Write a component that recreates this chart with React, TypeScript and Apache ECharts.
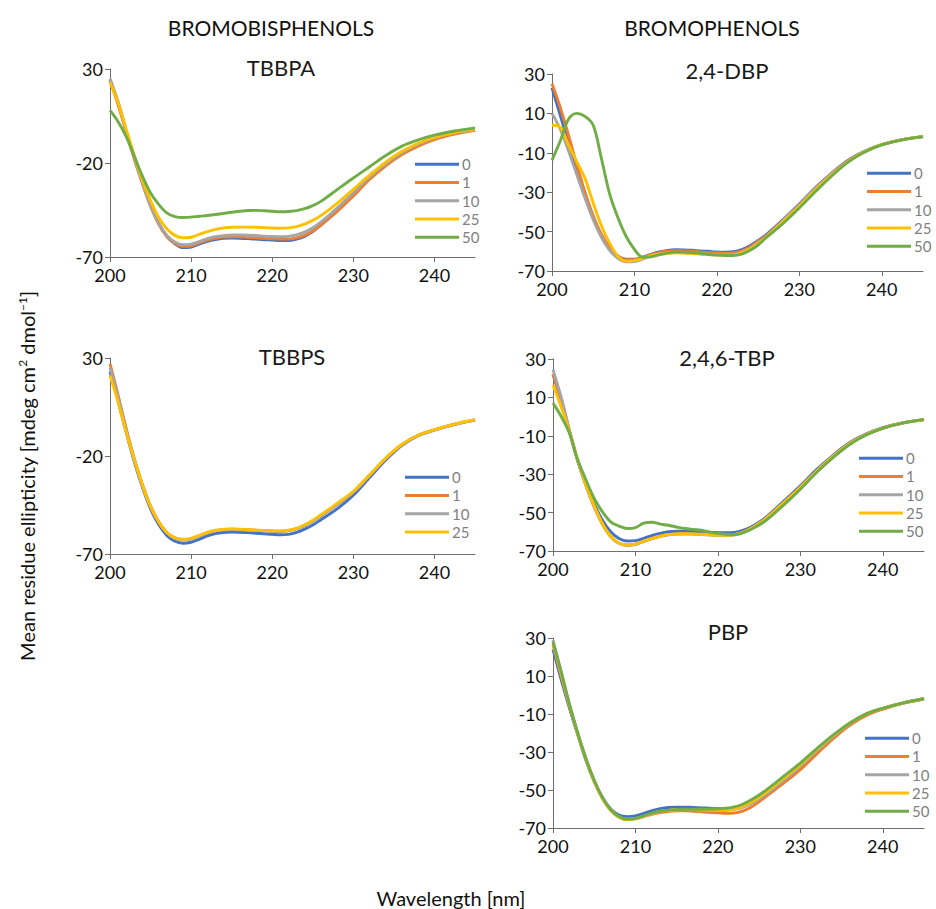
import React, { useEffect, useRef } from "react";
import * as echarts from "echarts";

// Wavelength grid (nm)
const WL = [200, 201, 202, 203, 204, 205, 206, 207, 208, 209, 210, 211, 212, 213, 214, 215, 216, 217, 218, 219, 220, 221, 222, 223, 224, 225, 226, 228, 230, 232, 234, 236, 238, 240, 242.5, 245];

const CONC = ["0", "1", "10", "25", "50"];
const X_TICKS = [200, 210, 220, 230, 240];
const Y_TICKS_A = [-70, -20, 30];
const Y_TICKS_B = [-70, -50, -30, -10, 10, 30];

// TBBPA
const TBBPA_0 = [24, 12, -3, -17, -30, -42, -52, -59, -63, -65, -64.7, -63.2, -61.7, -60.7, -60.1, -59.9, -60, -60.2, -60.5, -60.8, -61, -61.3, -61.3, -60.5, -59, -56.5, -53, -45.5, -37, -28, -21, -15, -10.5, -7, -4.2, -2.3];
const TBBPA_1 = [24, 11, -3.5, -18, -31, -43, -52.5, -59, -62.8, -64.3, -64, -62.5, -61, -60, -59.4, -59.2, -59.3, -59.5, -59.8, -60.1, -60.3, -60.5, -60.5, -59.8, -58.5, -56.2, -53, -45.8, -37.5, -28.8, -21.5, -15.5, -11, -7.5, -4.6, -2.6];
const TBBPA_10 = [25, 12.5, -3, -17, -30.5, -42.5, -52, -58.5, -62, -63.5, -63.2, -61.8, -60.2, -59.2, -58.6, -58.3, -58.3, -58.4, -58.6, -58.9, -59.1, -59.2, -59, -58.2, -56.8, -54.5, -51.5, -44, -35.8, -27.5, -20.5, -14.5, -10, -6.8, -4, -2.2];
const TBBPA_25 = [23, 12, -2, -16, -29, -40, -49, -55, -58.5, -59.8, -59.5, -58, -56.5, -55.3, -54.6, -54.2, -54.1, -54.1, -54.2, -54.4, -54.6, -54.7, -54.5, -53.8, -52.5, -50.5, -48, -41.5, -34, -26.5, -19.5, -13.8, -9.5, -6.4, -3.8, -2];
const TBBPA_50 = [8, 2, -6, -16.5, -27, -36, -42, -46.5, -48.5, -49, -48.8, -48.3, -47.9, -47.4, -46.8, -46.2, -45.7, -45.3, -45.2, -45.4, -45.7, -45.9, -45.8, -45.3, -44.3, -42.7, -40.4, -34.2, -28, -22, -16, -11, -7.7, -5.2, -3, -1.3];

// 2,4-DBP
const DBP_0 = [23, 9, -5, -19, -32, -43, -52, -58.5, -62.5, -64, -64, -63, -61.5, -60.3, -59.5, -59.2, -59.3, -59.5, -59.8, -60, -60.3, -60.4, -60.2, -59.2, -57.2, -54.5, -51.5, -44, -36, -27.5, -20, -13.5, -9, -5.8, -3.3, -1.8];
const DBP_1 = [25, 13, -1, -16, -30, -42, -51.5, -58, -62.5, -64.3, -64.3, -63.3, -61.8, -60.7, -60, -59.7, -59.8, -60, -60.3, -60.6, -60.8, -61, -60.8, -59.8, -57.8, -55, -52, -44.5, -36.5, -28, -20.3, -13.8, -9.2, -5.9, -3.3, -1.8];
const DBP_10 = [10, 2, -9, -21, -33, -44, -53, -59.5, -63.5, -65.3, -65.2, -64, -62.5, -61.4, -60.8, -60.6, -60.7, -60.9, -61.2, -61.5, -61.7, -61.8, -61.6, -60.6, -58.6, -55.8, -52.5, -44.5, -36.5, -28, -20.5, -14, -9.2, -5.9, -3.3, -1.8];
const DBP_25 = [4, 3, -6, -14.5, -23, -35.5, -47, -56, -62.5, -65, -64.8, -63.5, -62.2, -61.5, -61, -60.8, -60.9, -61.1, -61.4, -61.7, -61.9, -62, -61.8, -60.8, -58.8, -56, -52.8, -45, -37, -28.5, -21, -14.2, -9.3, -5.9, -3.3, -1.8];
const DBP_50 = [-13.7, -4, 7, 10, 8.5, 4, -13, -31, -43, -52.5, -59, -63, -62.8, -61.8, -60.9, -60.4, -60.4, -60.7, -61.1, -61.6, -61.9, -62.1, -62.1, -61.4, -59.6, -56.8, -53, -46, -38, -29.5, -21.5, -14.5, -9.5, -6, -3.4, -1.8];

// TBBPS
const TBBPS_0 = [23, 8, -8, -23, -36, -47, -55, -60.5, -63.5, -64.5, -64, -62.5, -60.8, -59.6, -59, -58.8, -58.9, -59.1, -59.4, -59.7, -60, -60.2, -60, -59, -57.3, -55.2, -52.5, -47, -40, -31, -22, -14.5, -9.6, -6.8, -3.9, -1.7];
const TBBPS_1 = [27, 11, -6, -21.5, -34.5, -45.5, -53.5, -59, -61.8, -62.7, -62.3, -60.8, -59.2, -58.1, -57.6, -57.4, -57.5, -57.7, -57.9, -58.1, -58.3, -58.4, -58.1, -57.1, -55.4, -53.2, -50.5, -44.8, -38.5, -30, -21.3, -14.2, -9.5, -6.7, -3.8, -1.6];
const TBBPS_10 = [25, 10, -7, -22, -35, -45.8, -53.7, -59.2, -62, -62.8, -62.4, -60.9, -59.3, -58.2, -57.7, -57.5, -57.6, -57.8, -58, -58.2, -58.4, -58.5, -58.2, -57.2, -55.5, -53.3, -50.6, -44.8, -38.5, -30, -21.3, -14.2, -9.5, -6.7, -3.8, -1.6];
const TBBPS_25 = [21, 7.5, -8, -22, -35, -45.8, -53.6, -59, -61.8, -62.5, -62, -60.5, -59, -57.9, -57.4, -57.2, -57.3, -57.5, -57.8, -58, -58.2, -58.2, -57.9, -56.9, -55.1, -52.8, -50, -44.2, -38, -29.6, -21, -14, -9.4, -6.6, -3.7, -1.5];

// 2,4,6-TBP
const TBP_0 = [22, 8, -8, -23, -35, -45.5, -54, -60, -63.5, -64.8, -64.6, -63.4, -62, -60.8, -60, -59.7, -59.7, -59.8, -60, -60.2, -60.4, -60.5, -60.3, -59.3, -57.5, -55, -51.8, -44, -36, -27.5, -20, -13.5, -9, -5.8, -3.2, -1.6];
const TBP_1 = [22, 8.5, -7.5, -23, -36, -47, -56, -62.5, -66, -67, -66.5, -65, -63.5, -62.3, -61.5, -61.1, -61, -61.1, -61.3, -61.5, -61.7, -61.8, -61.5, -60.3, -58.3, -55.7, -52.5, -44.8, -36.8, -28.3, -20.6, -14, -9.3, -6, -3.3, -1.6];
const TBP_10 = [24.5, 10, -7, -23, -36, -47, -56, -62.5, -66, -67, -66.5, -65, -63.5, -62.4, -61.6, -61.2, -61.1, -61.2, -61.4, -61.6, -61.8, -61.9, -61.6, -60.4, -58.4, -55.8, -52.6, -44.9, -36.9, -28.4, -20.7, -14, -9.3, -6, -3.3, -1.6];
const TBP_25 = [16.5, 5, -8, -22.5, -35.5, -46.5, -55.8, -62.3, -65.8, -66.9, -66.4, -64.9, -63.4, -62.3, -61.5, -61.1, -61, -61.1, -61.3, -61.5, -61.7, -61.8, -61.5, -60.3, -58.3, -55.7, -52.5, -44.8, -36.8, -28.3, -20.6, -14, -9.3, -6, -3.3, -1.6];
const TBP_50 = [7, 0, -8.7, -22.6, -33, -42.6, -49.6, -54.8, -57, -58.3, -57.8, -55.5, -55, -56, -56.6, -57.5, -58.3, -58.8, -59.2, -60.2, -60.8, -61.3, -61.5, -60.6, -58.8, -56.5, -53.5, -46, -37.8, -29, -21.2, -14.5, -9.6, -6.1, -3.3, -1.6];

// PBP
const PBP_0 = [24, 8, -7, -21, -34.5, -45.5, -54, -60, -63.2, -64, -63.6, -62.3, -60.8, -59.8, -59.2, -59, -59, -59.2, -59.4, -59.6, -59.8, -59.9, -59.6, -58.7, -57, -54.5, -51.5, -44.6, -37.3, -29.3, -21.7, -15, -10, -7, -4.2, -2];
const PBP_1 = [26.5, 10, -6, -20.5, -34, -45.5, -54.5, -60.8, -64.3, -65.4, -65.1, -64, -62.8, -61.9, -61.3, -61, -61, -61.2, -61.5, -61.8, -62, -62.2, -62.1, -61.1, -59.1, -56.2, -52.8, -46.3, -39.3, -31, -23, -16, -10.8, -7.5, -4.3, -2.1];
const PBP_10 = [29, 12, -5, -20, -33.5, -45, -54, -60.3, -64, -65.4, -65, -63.8, -62.4, -61.3, -60.7, -60.4, -60.3, -60.4, -60.6, -60.7, -60.8, -60.7, -60.2, -59.1, -57.2, -54.7, -51.8, -44.8, -37.5, -29.3, -21.8, -15, -10, -7, -4.1, -2];
const PBP_25 = [27.5, 11, -5.5, -20.5, -34, -45.5, -54.5, -60.6, -64.3, -65.6, -65.2, -63.9, -62.4, -61.3, -60.7, -60.4, -60.3, -60.3, -60.4, -60.5, -60.5, -60.4, -60, -58.6, -56.5, -53.8, -50.7, -43.7, -36.6, -28.7, -21.3, -14.8, -9.9, -7, -4.1, -2];
const PBP_50 = [28, 12, -5, -20, -33.5, -45, -54, -60.3, -64, -65.4, -65, -63.6, -62.2, -61.2, -60.6, -60.3, -60.1, -60.1, -60.1, -60, -59.9, -59.6, -58.9, -57.5, -55.3, -52.6, -49.5, -42.7, -35.8, -28.2, -21, -14.7, -9.9, -7, -4.1, -2];

const COLORS = ["#4472C4", "#ED7D31", "#A5A5A5", "#FFC000", "#70AD47"];
const FONT = "Lato, 'Noto Sans', sans-serif";

const PANELS = [
  { title: "TBBPA", tx: 281, ty: 67, grid: { left: 110, top: 69, width: 365, height: 188 }, yTicks: Y_TICKS_A, lines: [TBBPA_0, TBBPA_1, TBBPA_10, TBBPA_25, TBBPA_50], legend: { left: 415, top: 155 } },
  { title: "2,4-DBP", tx: 727, ty: 70, grid: { left: 552, top: 74, width: 371, height: 197 }, yTicks: Y_TICKS_B, lines: [DBP_0, DBP_1, DBP_10, DBP_25, DBP_50], legend: { left: 867, top: 164 } },
  { title: "TBBPS", tx: 292, ty: 356, grid: { left: 110, top: 358, width: 365, height: 196 }, yTicks: Y_TICKS_A, lines: [TBBPS_0, TBBPS_1, TBBPS_10, TBBPS_25], legend: { left: 405, top: 468 } },
  { title: "2,4,6-TBP", tx: 727, ty: 357, grid: { left: 553, top: 359, width: 371, height: 192 }, yTicks: Y_TICKS_B, lines: [TBP_0, TBP_1, TBP_10, TBP_25, TBP_50], legend: { left: 859, top: 449 } },
  { title: "PBP", tx: 728, ty: 631, grid: { left: 553, top: 638, width: 371, height: 190 }, yTicks: Y_TICKS_B, lines: [PBP_0, PBP_1, PBP_10, PBP_25, PBP_50], legend: { left: 865, top: 729 } },
];

function buildOption() {
  const axisColor = "#6e6e6e";
  const grid = PANELS.map((p) => ({ ...p.grid }));
  const xAxis = PANELS.map((p, i) => ({
    type: "value",
    gridIndex: i,
    min: 200,
    max: 245,
    axisLine: { show: true, onZero: false, lineStyle: { color: axisColor, width: 1 } },
    axisTick: { show: true, length: 5, customValues: X_TICKS, lineStyle: { color: axisColor } },
    axisLabel: { customValues: X_TICKS, fontSize: 18, color: "#111", fontFamily: FONT, margin: 9 },
    splitLine: { show: false },
  }));
  const yAxis = PANELS.map((p, i) => ({
    type: "value",
    gridIndex: i,
    min: -70,
    max: 30,
    axisLine: { show: true, onZero: false, lineStyle: { color: axisColor, width: 1 } },
    axisTick: { show: true, length: 5, customValues: p.yTicks, lineStyle: { color: axisColor } },
    axisLabel: { customValues: p.yTicks, fontSize: 18, color: "#111", fontFamily: FONT, margin: 7 },
    splitLine: { show: false },
  }));
  const series: any[] = [];
  PANELS.forEach((p, i) => {
    p.lines.forEach((arr, k) => {
      series.push({
        type: "line",
        name: CONC[k],
        xAxisIndex: i,
        yAxisIndex: i,
        data: WL.map((w, j) => [w, arr[j]]),
        smooth: 0.35,
        showSymbol: false,
        symbol: "none",
        color: COLORS[k],
        lineStyle: { color: COLORS[k], width: 2.9 },
        z: 2 + k,
      });
    });
  });
  const legend = PANELS.map((p) => ({
    data: CONC.slice(0, p.lines.length),
    orient: "vertical",
    left: p.legend.left,
    top: p.legend.top,
    icon: "rect",
    itemWidth: 44,
    itemHeight: 3,
    itemGap: 0,
    padding: 0,
    selectedMode: false,
    textStyle: { fontSize: 15, color: "#7f7f7f", fontFamily: FONT, lineHeight: 18.3, padding: [0, 0, 0, -2] },
  }));
  const graphic: any[] = [
    { type: "text", x: 271, y: 27, style: { text: "BROMOBISPHENOLS", font: `21px ${FONT}`, fill: "#111", textAlign: "center", textVerticalAlign: "middle" } },
    { type: "text", x: 712, y: 27, style: { text: "BROMOPHENOLS", font: `21px ${FONT}`, fill: "#111", textAlign: "center", textVerticalAlign: "middle" } },
    { type: "text", x: 451, y: 898, style: { text: "Wavelength [nm]", font: `20px ${FONT}`, fill: "#111", textAlign: "center", textVerticalAlign: "middle" } },
    {
      type: "text",
      x: 27,
      y: 476,
      rotation: Math.PI / 2,
      style: {
        text: "Mean residue ellipticity [mdeg cm{sup|2} dmol{sup|\u22121}]",
        font: `20px ${FONT}`,
        fill: "#111",
        textAlign: "center",
        textVerticalAlign: "middle",
        rich: { sup: { fontSize: 12, fontFamily: FONT, fill: "#111", padding: [0, 0, 10, 0] } },
      },
    },
  ];
  PANELS.forEach((p) => {
    graphic.push({ type: "text", x: p.tx, y: p.ty, style: { text: p.title, font: `22px ${FONT}`, fill: "#1a1a1a", textAlign: "center", textVerticalAlign: "middle" } });
  });
  return { animation: false, backgroundColor: "#fff", grid, xAxis, yAxis, series, legend, graphic };
}

export default function App() {
  const ref = useRef<HTMLDivElement>(null);
  useEffect(() => {
    if (!ref.current) return;
    const chart = echarts.init(ref.current, null, { renderer: "svg" });
    chart.setOption(buildOption() as any);
    return () => chart.dispose();
  }, []);
  return <div ref={ref} style={{ position: "fixed", left: 0, top: 0, width: 936, height: 909, background: "#fff" }} />;
}
